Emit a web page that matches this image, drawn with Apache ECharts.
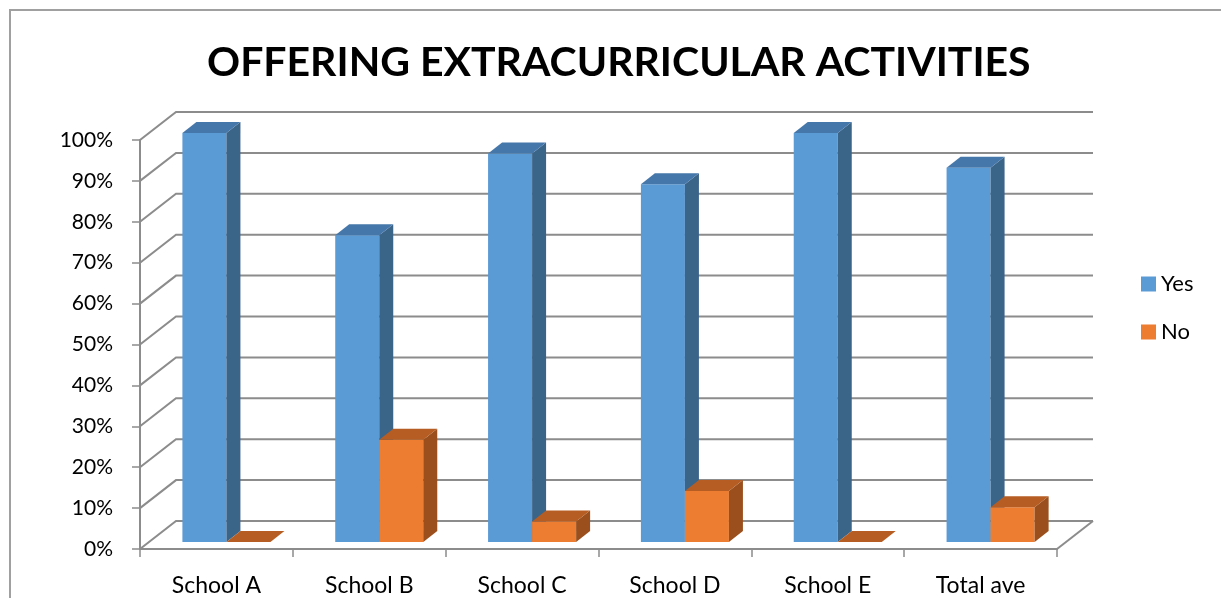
<!DOCTYPE html>
<html>
<head>
<meta charset="utf-8">
<script src="https://cdn.jsdelivr.net/npm/echarts@6/dist/echarts.min.js"></script>
<style>
  html, body { margin: 0; padding: 0; background: #fff; }
  #chart { width: 1221px; height: 598px; }
</style>
</head>
<body>
<div id="chart"></div>
<script>
// Share of pupils answering Yes / No, per school and overall
const categories = ['School A', 'School B', 'School C', 'School D', 'School E', 'Total ave'];
const yesValues = [100, 75, 95, 87.5, 100, 91.5];
const noValues = [0, 25, 5, 12.5, 0, 8.5];
const yTicks = [0, 10, 20, 30, 40, 50, 60, 70, 80, 90, 100];

const FONT = 'Lato, "Liberation Sans", sans-serif';
const GRID_COLOR = '#8c8c8c';

// Pseudo-3D geometry (pixels)
const WALL = { dx: 36, dy: -28 };      // depth of the floor / back wall
const PLANE = { dx: 10, dy: -7 };      // where the bar fronts stand
const DEPTH = { dx: 14, dy: -11 };     // thickness of each bar
const BAR_FRAC = 0.288;                // bar width as share of a category band

const chart = echarts.init(document.getElementById('chart'), null, { renderer: 'canvas' });

// Back wall gridlines + left wall diagonals, one polyline per tick value
function wallRenderer(params, api) {
  const v = api.value(1);
  const cs = params.coordSys;
  const y = api.coord([0, v])[1];
  const left = cs.x, right = cs.x + cs.width;
  const children = [{
    type: 'polyline',
    shape: { points: [[left, y], [left + WALL.dx, y + WALL.dy], [right + WALL.dx, y + WALL.dy]] },
    style: { stroke: GRID_COLOR, lineWidth: 2, fill: null }
  }];
  if (v === 0) {
    children.push({
      type: 'line',
      shape: { x1: right, y1: y, x2: right + WALL.dx, y2: y + WALL.dy },
      style: { stroke: GRID_COLOR, lineWidth: 2 }
    });
  }
  return { type: 'group', children };
}

function barRenderer(slot, colors) {
  return function (params, api) {
    const cat = api.value(0), v = api.value(1);
    const base = api.coord([cat, 0]);
    const top = api.coord([cat, v]);
    const band = api.size([1, 0])[0];
    const w = band * BAR_FRAC;
    const x0 = (slot === 0 ? base[0] - w : base[0]) + PLANE.dx;
    const yT = top[1] + PLANE.dy;
    const yB = base[1] + PLANE.dy;
    return {
      type: 'group',
      children: [
        {
          type: 'rect',
          shape: { x: x0, y: yT, width: w, height: yB - yT },
          style: { fill: colors.front }
        },
        {
          type: 'polygon',
          shape: { points: [[x0 + w, yT], [x0 + w + DEPTH.dx, yT + DEPTH.dy], [x0 + w + DEPTH.dx, yB + DEPTH.dy], [x0 + w, yB]] },
          style: { fill: colors.side }
        },
        {
          type: 'polygon',
          shape: { points: [[x0, yT], [x0 + DEPTH.dx, yT + DEPTH.dy], [x0 + w + DEPTH.dx, yT + DEPTH.dy], [x0 + w, yT]] },
          style: { fill: colors.top }
        }
      ]
    };
  };
}

const yesColors = { front: '#5B9BD5', side: '#3B6489', top: '#4677AA' };
const noColors = { front: '#ED7D31', side: '#9A4F1D', top: '#B55D22' };

const option = {
  backgroundColor: '#ffffff',
  animation: false,
  title: {
    text: 'OFFERING EXTRACURRICULAR ACTIVITIES',
    left: 202,
    top: 37,
    textStyle: { fontFamily: FONT, fontWeight: 'bold', fontSize: 41, color: '#000' }
  },
  legend: {
    orient: 'vertical',
    left: 1136,
    top: 268,
    itemWidth: 15,
    itemHeight: 15,
    itemGap: 26,
    icon: 'rect',
    data: ['Yes', 'No'],
    textStyle: { fontFamily: FONT, fontSize: 22, color: '#000' }
  },
  graphic: [{
    type: 'rect',
    shape: { x: 10, y: 10, width: 1400, height: 800 },
    style: { fill: null, stroke: '#a0a0a0', lineWidth: 2 },
    silent: true
  }],
  grid: { left: 140, right: 164, top: 140, bottom: 49, containLabel: false },
  xAxis: {
    type: 'category',
    data: categories,
    axisLine: { show: true, lineStyle: { color: GRID_COLOR, width: 2 } },
    axisTick: { show: true, length: 8, interval: 0, lineStyle: { color: GRID_COLOR, width: 1.5 } },
    axisLabel: { fontFamily: FONT, fontSize: 23, color: '#000', margin: 25 },
    splitLine: { show: false }
  },
  yAxis: {
    type: 'value',
    min: 0,
    max: 100,
    interval: 10,
    axisLine: { show: true, lineStyle: { color: GRID_COLOR, width: 2 } },
    axisTick: { show: true, length: 8, lineStyle: { color: GRID_COLOR, width: 1.5 } },
    axisLabel: { fontFamily: FONT, fontSize: 21, color: '#000', margin: 27, formatter: '{value}%' },
    splitLine: { show: false }
  },
  series: [
    {
      type: 'custom',
      name: 'wall',
      silent: true,
      renderItem: wallRenderer,
      data: yTicks.map(t => [0, t]),
      z: 1
    },
    {
      type: 'custom',
      name: 'Yes',
      itemStyle: { color: yesColors.front },
      renderItem: barRenderer(0, yesColors),
      data: yesValues.map((v, i) => [i, v]),
      z: 2
    },
    {
      type: 'custom',
      name: 'No',
      itemStyle: { color: noColors.front },
      renderItem: barRenderer(1, noColors),
      data: noValues.map((v, i) => [i, v]),
      z: 3
    }
  ]
};

chart.setOption(option);
</script>
</body>
</html>
